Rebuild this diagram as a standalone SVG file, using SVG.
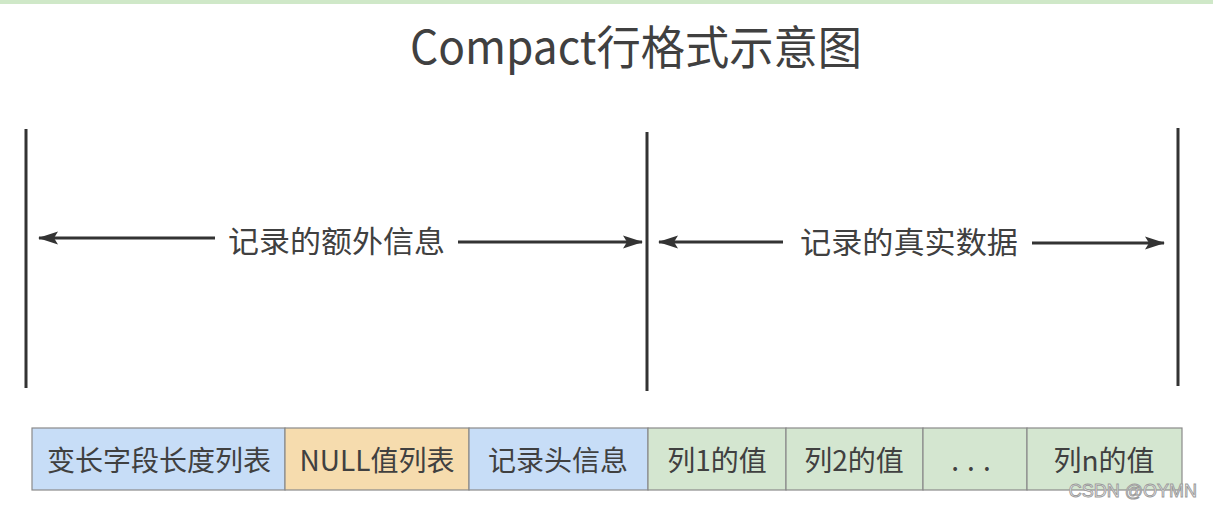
<svg xmlns="http://www.w3.org/2000/svg" width="1213" height="506" viewBox="0 0 1213 506">
<defs>
<style>
.t{font-family:"Noto Sans CJK SC","Noto Sans",sans-serif;fill:#404040;}
.vl{stroke:#333;stroke-width:3;}
.ar{stroke:#333;stroke-width:3;fill:none;}
.box{stroke:#8a8a8a;stroke-width:1.2;}
.blue{fill:#c7ddf7;}
.orange{fill:#f6dcae;}
.green{fill:#d4e6d0;}
.bt{font-size:28px;text-anchor:middle;}
</style>
<marker id="ah" viewBox="0 0 20 14" refX="19" refY="7" markerWidth="20" markerHeight="14" orient="auto-start-reverse" markerUnits="userSpaceOnUse">
<path d="M0,0.5 L20,7 L0,13.5 L4,7 Z" fill="#333"/>
</marker>
</defs>
<rect x="0" y="0" width="1213" height="506" fill="#ffffff"/>
<rect x="0" y="0" width="1213" height="4" fill="#cfe8c8"/>
<text class="t" x="636" y="64" font-size="46" text-anchor="middle" textLength="452" lengthAdjust="spacingAndGlyphs" fill="#333">Compact行格式示意图</text>

<g id="bounds">
<line class="vl" x1="26" y1="129" x2="26" y2="388"/>
<line class="vl" x1="647" y1="132" x2="647" y2="391"/>
<line class="vl" x1="1178" y1="128" x2="1178" y2="386"/>
</g>

<g id="connectors">
<line class="ar" x1="215" y1="238" x2="39" y2="238" marker-end="url(#ah)"/>
<line class="ar" x1="458" y1="242" x2="642" y2="242" marker-end="url(#ah)"/>
<line class="ar" x1="783" y1="242" x2="659" y2="242" marker-end="url(#ah)"/>
<line class="ar" x1="1032" y1="243" x2="1164" y2="243" marker-end="url(#ah)"/>
</g>

<g id="label-extra">
<text class="t" x="336.5" y="252" font-size="30" text-anchor="middle" textLength="217" lengthAdjust="spacingAndGlyphs">记录的额外信息</text>
</g>
<g id="label-data">
<text class="t" x="909" y="253" font-size="30" text-anchor="middle" textLength="218" lengthAdjust="spacingAndGlyphs">记录的真实数据</text>
</g>

<g id="n1"><rect class="box blue" x="32" y="428" width="253" height="62"/><text class="t bt" x="159" y="471">变长字段长度列表</text></g>
<g id="n2"><rect class="box orange" x="285" y="428" width="184" height="62"/><text class="t bt" x="377" y="471">NULL值列表</text></g>
<g id="n3"><rect class="box blue" x="469" y="428" width="179" height="62"/><text class="t bt" x="558" y="471">记录头信息</text></g>
<g id="n4"><rect class="box green" x="648" y="428" width="138" height="62"/><text class="t bt" x="717" y="471">列1的值</text></g>
<g id="n5"><rect class="box green" x="786" y="428" width="137" height="62"/><text class="t bt" x="854" y="471">列2的值</text></g>
<g id="n6"><rect class="box green" x="923" y="428" width="104" height="62"/><text class="t bt" x="975" y="471" letter-spacing="8">...</text></g>
<g id="n7"><rect class="box green" x="1027" y="428" width="155" height="62"/><text class="t bt" x="1104" y="471">列n的值</text></g>

<text x="1197" y="497" font-family="'Liberation Sans','Noto Sans',sans-serif" font-size="18" text-anchor="end" fill="#f2f2f2" stroke="#9a9a9a" stroke-width="0.9">CSDN @OYMN</text>
</svg>
